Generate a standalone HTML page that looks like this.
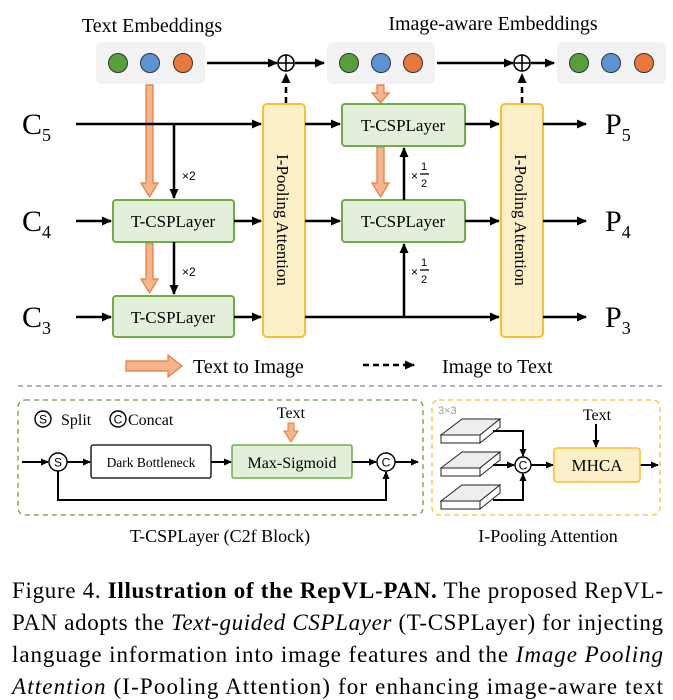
<!DOCTYPE html>
<html><head><meta charset="utf-8"><style>
html,body{margin:0;padding:0;background:#fff;}
svg{display:block;font-family:"Liberation Serif",serif;}
</style></head><body>
<svg width="673" height="700" viewBox="0 0 673 700" xmlns="http://www.w3.org/2000/svg">
<defs>
<marker id="a" markerWidth="10" markerHeight="10" refX="9" refY="5" orient="auto" markerUnits="userSpaceOnUse"><path d="M0,0.5 L10,5 L0,9.5 z" fill="#000"/></marker>
<marker id="as" markerWidth="8" markerHeight="8" refX="7" refY="4" orient="auto" markerUnits="userSpaceOnUse"><path d="M0,0.5 L8,4 L0,7.5 z" fill="#000"/></marker>
</defs>
<text x="152" y="32" font-size="20" text-anchor="middle">Text Embeddings</text>
<text x="493" y="30" font-size="20" text-anchor="middle">Image-aware Embeddings</text>
<g fill="#f2f2f2"><rect x="96" y="42" width="109" height="42" rx="6"/><rect x="327" y="42" width="108" height="42" rx="6"/><rect x="557" y="42" width="109" height="42" rx="6"/></g>
<g stroke="#333" stroke-width="1">
<circle cx="118" cy="63" r="9.5" fill="#5a9e3c"/><circle cx="150" cy="63" r="9.5" fill="#5b93d3"/><circle cx="183" cy="63" r="9.5" fill="#e8793a"/>
<circle cx="349" cy="63" r="9.5" fill="#5a9e3c"/><circle cx="381" cy="63" r="9.5" fill="#5b93d3"/><circle cx="413" cy="63" r="9.5" fill="#e8793a"/>
<circle cx="579" cy="63" r="9.5" fill="#5a9e3c"/><circle cx="611" cy="63" r="9.5" fill="#5b93d3"/><circle cx="644" cy="63" r="9.5" fill="#e8793a"/>
</g>
<g stroke="#000" stroke-width="2.5" fill="none">
<line x1="207" y1="63" x2="277" y2="63" marker-end="url(#a)"/>
<line x1="295" y1="63" x2="324" y2="63" marker-end="url(#a)"/>
<line x1="437" y1="63" x2="513" y2="63" marker-end="url(#a)"/>
<line x1="531" y1="63" x2="554" y2="63" marker-end="url(#a)"/>
</g>
<g stroke="#000" stroke-width="1.6" fill="#fff">
<circle cx="286" cy="63" r="8"/><circle cx="522" cy="63" r="8"/>
</g>
<g stroke="#000" stroke-width="1.6"><line x1="278" y1="63" x2="294" y2="63"/><line x1="286" y1="55" x2="286" y2="71"/><line x1="514" y1="63" x2="530" y2="63"/><line x1="522" y1="55" x2="522" y2="71"/></g>
<g stroke="#000" stroke-width="2.5" stroke-dasharray="6,4" fill="none">
<line x1="286" y1="103" x2="286" y2="74" marker-end="url(#a)"/>
<line x1="522" y1="103" x2="522" y2="74" marker-end="url(#a)"/>
</g>
<g fill="#fdf0c8" stroke="#f5c12f" stroke-width="2">
<rect x="263" y="104" width="42" height="233" rx="4"/>
<rect x="501" y="104" width="42" height="233" rx="4"/>
</g>
<text transform="translate(277,220) rotate(90)" font-size="17" text-anchor="middle">I-Pooling Attention</text>
<text transform="translate(515,220) rotate(90)" font-size="17" text-anchor="middle">I-Pooling Attention</text>
<g fill="#f4b58c" stroke="#e8793a" stroke-width="1.2">
<path d="M146,85 h7 v98 h5 l-8.5,14 l-8.5,-14 h5 z"/>
<path d="M146,243 h7 v36 h5 l-8.5,14 l-8.5,-14 h5 z"/>
<path d="M377,85 h7 v8 h5 l-8.5,10 l-8.5,-10 h5 z"/>
<path d="M377,147 h7 v36 h5 l-8.5,14 l-8.5,-14 h5 z"/>
</g>
<g fill="#e2efda" stroke="#70ad47" stroke-width="2">
<rect x="113" y="200" width="121" height="42" rx="3"/>
<rect x="113" y="296" width="121" height="41" rx="3"/>
<rect x="342" y="104" width="123" height="42" rx="3"/>
<rect x="342" y="200" width="123" height="42" rx="3"/>
</g>
<g font-size="17" text-anchor="middle">
<text x="173" y="227">T-CSPLayer</text><text x="173" y="323">T-CSPLayer</text>
<text x="403" y="131">T-CSPLayer</text><text x="403" y="227">T-CSPLayer</text>
</g>
<g font-size="30"><text x="22" y="134">C<tspan font-size="18" dy="7">5</tspan></text>
<text x="22" y="231">C<tspan font-size="18" dy="7">4</tspan></text>
<text x="22" y="327">C<tspan font-size="18" dy="7">3</tspan></text>
<text x="605" y="134">P<tspan font-size="18" dy="7">5</tspan></text>
<text x="605" y="231">P<tspan font-size="18" dy="7">4</tspan></text>
<text x="605" y="327">P<tspan font-size="18" dy="7">3</tspan></text></g>
<g stroke="#000" stroke-width="2.5" fill="none">
<line x1="76" y1="124" x2="261" y2="124" marker-end="url(#a)"/>
<line x1="76" y1="221" x2="111" y2="221" marker-end="url(#a)"/>
<line x1="76" y1="317" x2="111" y2="317" marker-end="url(#a)"/>
<line x1="234" y1="221" x2="261" y2="221" marker-end="url(#a)"/>
<line x1="234" y1="317" x2="261" y2="317" marker-end="url(#a)"/>
<line x1="174" y1="124" x2="174" y2="198" marker-end="url(#a)"/>
<line x1="174" y1="242" x2="174" y2="294" marker-end="url(#a)"/>
<line x1="305" y1="124" x2="340" y2="124" marker-end="url(#a)"/>
<line x1="305" y1="221" x2="340" y2="221" marker-end="url(#a)"/>
<line x1="305" y1="317" x2="499" y2="317" marker-end="url(#a)"/>
<line x1="465" y1="124" x2="499" y2="124" marker-end="url(#a)"/>
<line x1="465" y1="221" x2="499" y2="221" marker-end="url(#a)"/>
<line x1="404" y1="200" x2="404" y2="148" marker-end="url(#a)"/>
<line x1="404" y1="317" x2="404" y2="244" marker-end="url(#a)"/>
<line x1="543" y1="124" x2="586" y2="124" marker-end="url(#a)"/>
<line x1="543" y1="221" x2="586" y2="221" marker-end="url(#a)"/>
<line x1="543" y1="317" x2="586" y2="317" marker-end="url(#a)"/>
</g>
<g font-family="Liberation Sans, sans-serif" font-size="12">
<text x="182" y="180">×2</text><text x="182" y="276">×2</text>
<text x="411" y="180">×</text><text x="421" y="170" font-size="11">1</text><line x1="420" y1="174" x2="429" y2="174" stroke="#000" stroke-width="1.3"/><text x="421" y="187" font-size="11">2</text>
<text x="411" y="276">×</text><text x="421" y="266" font-size="11">1</text><line x1="420" y1="270" x2="429" y2="270" stroke="#000" stroke-width="1.3"/><text x="421" y="283" font-size="11">2</text>
</g>
<path d="M126,361 h42 v-6 l14,11 l-14,11 v-6 h-42 z" fill="#f4b58c" stroke="#e8793a" stroke-width="1.2"/>
<text x="193" y="373" font-size="20">Text to Image</text>
<line x1="363" y1="365" x2="414" y2="365" stroke="#000" stroke-width="2.5" stroke-dasharray="6,4" marker-end="url(#a)"/>
<text x="442" y="373" font-size="20">Image to Text</text>
<line x1="18" y1="386" x2="665" y2="386" stroke="#888" stroke-width="1.2" stroke-dasharray="5,4"/>
<rect x="18" y="400" width="405" height="115" rx="7" fill="none" stroke="#6a9a4a" stroke-width="1.3" stroke-dasharray="5,4"/>
<g stroke="#000" stroke-width="1.4" fill="#fff">
<circle cx="43" cy="419" r="8"/><circle cx="118" cy="419" r="8"/>
<circle cx="58" cy="462" r="9"/><circle cx="386" cy="462" r="9"/>
</g>
<g font-family="Liberation Sans, sans-serif" font-size="12" text-anchor="middle">
<text x="43" y="423.5">S</text><text x="118" y="423.5">C</text><text x="58" y="466.5">S</text><text x="386" y="466.5">C</text>
</g>
<text x="61" y="425" font-size="16">Split</text>
<text x="128" y="425" font-size="16">Concat</text>
<text x="291" y="418" font-size="16" text-anchor="middle">Text</text>
<path d="M288,423 h6 v8 h4 l-7,11 l-7,-11 h4 z" fill="#f4b58c" stroke="#e8793a" stroke-width="1"/>
<rect x="91" y="445" width="120" height="33" rx="2" fill="#fff" stroke="#000" stroke-width="1.3"/>
<rect x="232" y="445" width="120" height="33" rx="2" fill="#e2efda" stroke="#70ad47" stroke-width="1.5"/>
<text x="151" y="467" font-size="13.5" text-anchor="middle">Dark Bottleneck</text>
<text x="292" y="468" font-size="16" text-anchor="middle">Max-Sigmoid</text>
<g stroke="#000" stroke-width="2" fill="none">
<line x1="22" y1="462" x2="48" y2="462" marker-end="url(#as)"/>
<line x1="67" y1="462" x2="90" y2="462" marker-end="url(#as)"/>
<line x1="211" y1="462" x2="231" y2="462" marker-end="url(#as)"/>
<line x1="352" y1="462" x2="376" y2="462" marker-end="url(#as)"/>
<line x1="395" y1="462" x2="418" y2="462" marker-end="url(#as)"/>
<polyline points="58,471 58,500 386,500 386,472" marker-end="url(#as)"/>
</g>
<rect x="432" y="400" width="228" height="115" rx="7" fill="none" stroke="#f5c12f" stroke-width="1.3" stroke-dasharray="5,4"/>
<text x="438" y="414" font-family="Liberation Sans, sans-serif" font-size="11" fill="#999">3×3</text>
<g stroke="#222" stroke-width="1" fill="#eee">
<g><path d="M441,435 L462,419 L500,419 L480,435 z"/><path d="M441,435 h39 v8 h-39 z" fill="#fff"/><path d="M480,435 L500,419 v8 L480,443 z" fill="#fff"/></g>
<g transform="translate(0,33)"><path d="M441,435 L462,419 L500,419 L480,435 z"/><path d="M441,435 h39 v8 h-39 z" fill="#fff"/><path d="M480,435 L500,419 v8 L480,443 z" fill="#fff"/></g>
<g transform="translate(0,66)"><path d="M441,435 L462,419 L500,419 L480,435 z"/><path d="M441,435 h39 v8 h-39 z" fill="#fff"/><path d="M480,435 L500,419 v8 L480,443 z" fill="#fff"/></g>
</g>
<g stroke="#000" stroke-width="2" fill="none">
<polyline points="493,431 523,431 523,456" marker-end="url(#as)"/>
<line x1="493" y1="465" x2="514" y2="465" marker-end="url(#as)"/>
<polyline points="493,500 523,500 523,474" marker-end="url(#as)"/>
<line x1="531" y1="465" x2="553" y2="465" marker-end="url(#as)"/>
<line x1="596" y1="424" x2="596" y2="447" marker-end="url(#as)"/>
<line x1="640" y1="465" x2="658" y2="465" marker-end="url(#as)"/>
</g>
<circle cx="523" cy="465" r="8" fill="#fff" stroke="#000" stroke-width="1.4"/>
<text x="523" y="469.5" font-family="Liberation Sans, sans-serif" font-size="12" text-anchor="middle">C</text>
<rect x="554" y="448" width="86" height="34" rx="3" fill="#fdf0c8" stroke="#f5c12f" stroke-width="1.5"/>
<text x="597" y="471" font-size="17" text-anchor="middle">MHCA</text>
<text x="597" y="420" font-size="16" text-anchor="middle">Text</text>
<text x="220" y="542" font-size="18" text-anchor="middle">T-CSPLayer (C2f Block)</text>
<text x="548" y="542" font-size="18" text-anchor="middle">I-Pooling Attention</text>
<g font-size="23">
<text x="12" y="598" textLength="651" lengthAdjust="spacing">Figure 4. <tspan font-weight="bold">Illustration of the RepVL-PAN.</tspan> The proposed RepVL-</text>
<text x="12" y="630" textLength="651" lengthAdjust="spacing">PAN adopts the <tspan font-style="italic">Text-guided CSPLayer</tspan> (T-CSPLayer) for injecting</text>
<text x="12" y="662" textLength="651" lengthAdjust="spacing">language information into image features and the <tspan font-style="italic">Image Pooling</tspan></text>
<text x="12" y="694" textLength="651" lengthAdjust="spacing"><tspan font-style="italic">Attention</tspan> (I-Pooling Attention) for enhancing image-aware text</text>
</g>
</svg>
</body></html>
